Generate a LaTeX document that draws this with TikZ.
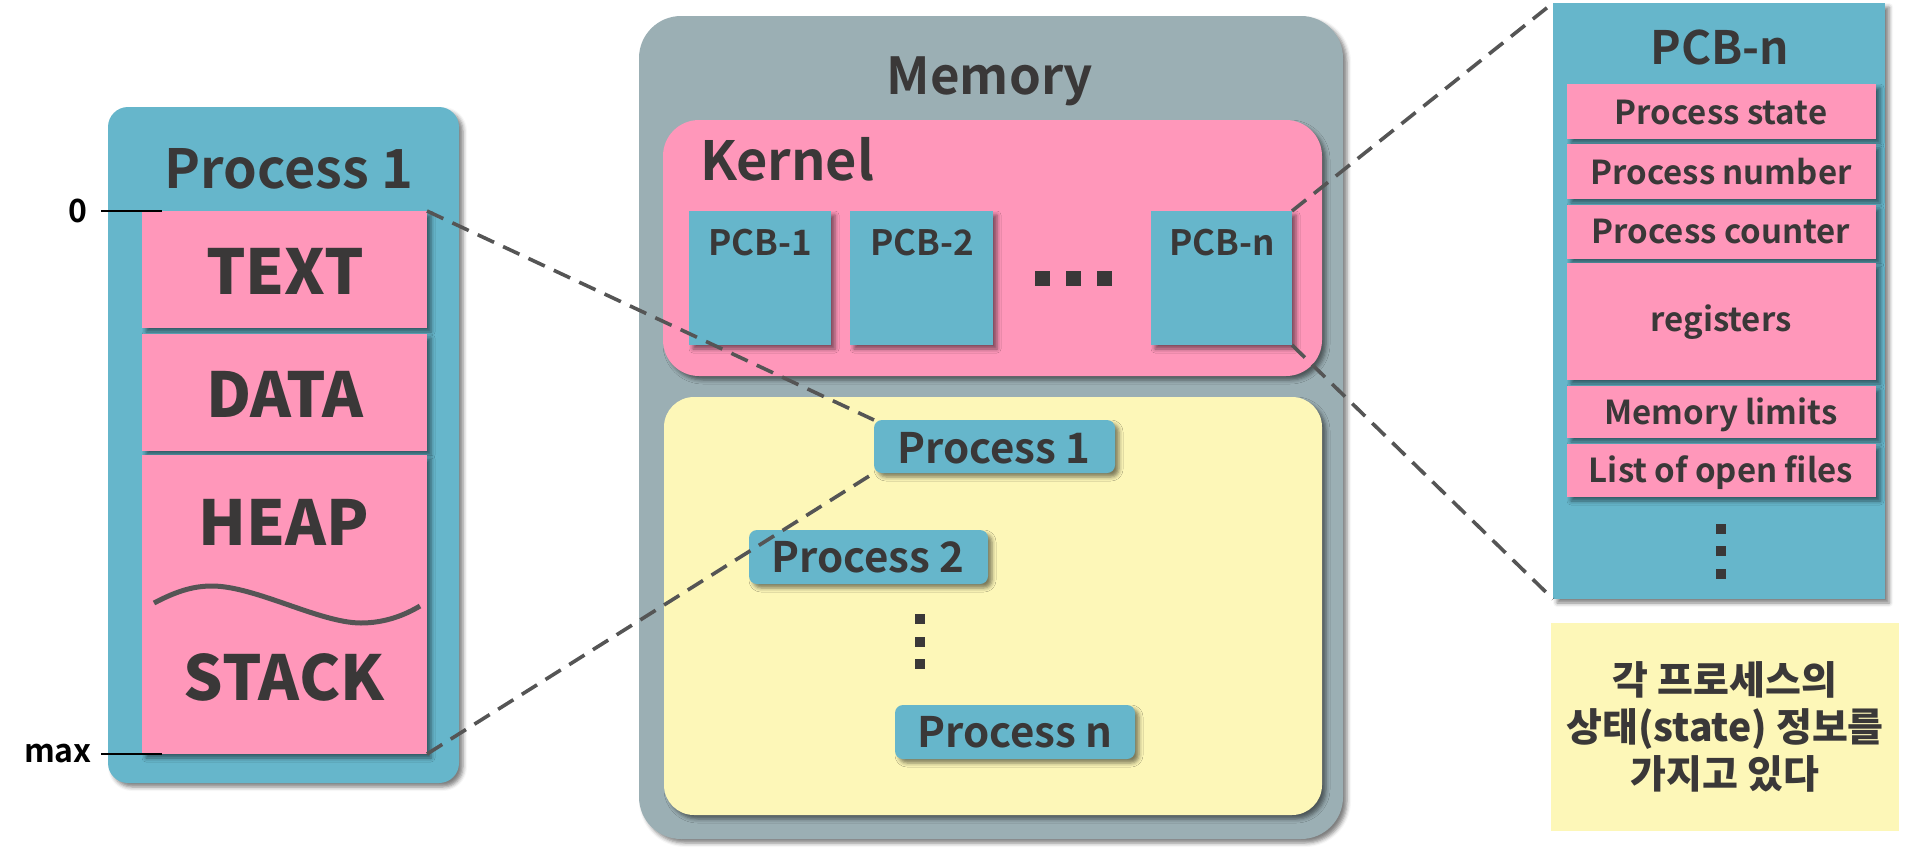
\documentclass[tikz,border=0pt]{standalone}
\usepackage{fontspec}
\setmainfont{Noto Sans CJK KR}[UprightFont=* Bold]
\newfontfamily\heavyfont{Noto Sans CJK KR}[UprightFont=* Black]
\usetikzlibrary{shadows.blur}
\definecolor{pblue}{HTML}{66B6CB}
\definecolor{ppink}{HTML}{FF97BA}
\definecolor{mgray}{HTML}{9BAFB4}
\definecolor{pyellow}{HTML}{FDF7B8}
\definecolor{dtext}{HTML}{3A3838}
\definecolor{dline}{HTML}{555555}
\tikzset{
  box/.style={draw=none, inner sep=0pt, outer sep=0pt, anchor=north west},
  shad/.style={blur shadow={shadow xshift=4pt, shadow yshift=-4pt, shadow blur radius=4pt, shadow opacity=50}},
  lbl/.style={inner sep=0pt, outer sep=0pt, text=dtext, anchor=base},
  fs/.style={font=\fontsize{#1pt}{#1pt}\selectfont},
  fh/.style={font=\heavyfont\fontsize{#1pt}{#1pt}\selectfont},
  dashline/.style={draw=dline, line width=3.6pt, dash pattern=on 18pt off 10pt},
  tick/.style={draw=black, line width=2pt},
  sq/.style={fill=dtext},
}
\begin{document}
\begin{tikzpicture}[x=1pt, y=-1pt]
\useasboundingbox (0,0) rectangle (1906,854);

% ---------------- Process 1 (left) ----------------
\node[box, fill=pblue, rounded corners=20pt, minimum width=351pt, minimum height=676pt, shad] (p1) at (108,107) {};
\node[lbl, fs=54] (p1t) at (289,188) {Process 1};
\node[box, fill=ppink, minimum width=285pt, minimum height=117pt, shad] (btext) at (142,211) {};
\node[box, fill=ppink, minimum width=285pt, minimum height=117pt, shad] (bdata) at (142,334) {};
\node[box, fill=ppink, minimum width=285pt, minimum height=299pt, shad] (bhs) at (142,455) {};
\node[lbl, fh=62] (ltext) at (285,294) {TEXT};
\node[lbl, fh=62] (ldata) at (285,417) {DATA};
\node[lbl, fh=62] (lheap) at (284,545) {HEAP};
\node[lbl, fh=62] (lstack) at (284,700) {STACK};
\draw[draw=dline, line width=5pt] (154,603) .. controls (175,592) and (192,586) .. (212,586)
   .. controls (255,586) and (320,623) .. (361,623) .. controls (385,623) and (405,615) .. (420,606);

\node[inner sep=0pt, anchor=east, fs=32] (zero) at (88,211) {0};
\node[inner sep=0pt, anchor=east, fs=32] (maxl) at (92,754) {max};
\coordinate (z1) at (101,211); \coordinate (z2) at (162,211);
\coordinate (m1) at (101,754); \coordinate (m2) at (162,754);
\draw[tick] (z1) -- (z2);
\draw[tick] (m1) -- (m2);

% ---------------- Memory ----------------
\node[box, fill=mgray, rounded corners=42pt, minimum width=704pt, minimum height=823pt, shad] (mem) at (639,16) {};
\node[lbl, fs=51] (memt) at (990,94) {Memory};
\node[box, fill=ppink, rounded corners=36pt, minimum width=659pt, minimum height=256pt, shad] (kern) at (663,120) {};
\node[lbl, fs=54, anchor=base west] (kernt) at (700,180) {Kernel};
\node[box, fill=pblue, minimum width=142pt, minimum height=134pt, shad] (pcb1) at (689,211) {};
\node[box, fill=pblue, minimum width=143pt, minimum height=134pt, shad] (pcb2) at (850,211) {};
\node[box, fill=pblue, minimum width=141pt, minimum height=134pt, shad] (pcbn) at (1151,211) {};
\node[lbl, fs=35] (pcb1t) at (760,255) {PCB-1};
\node[lbl, fs=35] (pcb2t) at (922,255) {PCB-2};
\node[lbl, fs=35] (pcbnt) at (1222,255) {PCB-n};
\fill[sq] (1035,271) rectangle (1050,286);
\fill[sq] (1066,271) rectangle (1081,286);
\fill[sq] (1097,271) rectangle (1112,286);

\node[box, fill=pyellow, rounded corners=30pt, minimum width=658pt, minimum height=418pt, shad] (ua) at (664,397) {};
\node[box, fill=pblue, rounded corners=8pt, minimum width=241pt, minimum height=53pt, shad] (sp1) at (874,420) {};
\node[box, fill=pblue, rounded corners=8pt, minimum width=239pt, minimum height=54pt, shad] (sp2) at (749,530) {};
\node[box, fill=pblue, rounded corners=8pt, minimum width=240pt, minimum height=54pt, shad] (spn) at (895,705) {};
\node[lbl, fs=42] (sp1t) at (994,463) {Process 1};
\node[lbl, fs=42] (sp2t) at (868,572) {Process 2};
\node[lbl, fs=42] (spnt) at (1015,747) {Process n};
\fill[sq] (915,614) rectangle (925,624);
\fill[sq] (915,637) rectangle (925,647);
\fill[sq] (915,659) rectangle (925,669);

% ---------------- PCB-n detail ----------------
\node[box, fill=pblue, minimum width=332pt, minimum height=596pt, shad] (panel) at (1553,3) {};
\node[lbl, fs=46] (panelt) at (1720,64) {PCB-n};
\node[box, fill=ppink, minimum width=309pt, minimum height=55pt, shad] (r1) at (1567,84) {};
\node[box, fill=ppink, minimum width=309pt, minimum height=55pt, shad] (r2) at (1567,144) {};
\node[box, fill=ppink, minimum width=309pt, minimum height=54pt, shad] (r3) at (1567,205) {};
\node[box, fill=ppink, minimum width=309pt, minimum height=117pt, shad] (r4) at (1567,263) {};
\node[box, fill=ppink, minimum width=309pt, minimum height=52pt, shad] (r5) at (1567,386) {};
\node[box, fill=ppink, minimum width=309pt, minimum height=53pt, shad] (r6) at (1567,444) {};
\node[lbl, fs=33] (r1t) at (1721,124) {Process state};
\node[lbl, fs=33] (r2t) at (1721,184) {Process number};
\node[lbl, fs=33] (r3t) at (1721,243) {Process counter};
\node[lbl, fs=33] (r4t) at (1721,331) {registers};
\node[lbl, fs=33] (r5t) at (1721,424) {Memory limits};
\node[lbl, fs=33] (r6t) at (1721,482) {List of open files};
\fill[sq] (1716,524) rectangle (1726,534);
\fill[sq] (1716,546) rectangle (1726,556);
\fill[sq] (1716,569) rectangle (1726,579);

\node[box, fill=pyellow, minimum width=348pt, minimum height=208pt] (note) at (1551,623) {};
\node[inner sep=0pt, text=dtext, align=center, font=\heavyfont\fontsize{39pt}{47pt}\selectfont] (notet) at (note.center) {각 프로세스의\\상태(state) 정보를\\가지고 있다};

% ---------------- dashed connectors ----------------
\draw[dashline] (btext.north east) -- (sp1.north west);
\draw[dashline] (bhs.south east) -- (sp1.south west);
\draw[dashline] (pcbn.north east) -- (panel.north west);
\draw[dashline] (pcbn.south east) -- (panel.south west);
\end{tikzpicture}
\end{document}
